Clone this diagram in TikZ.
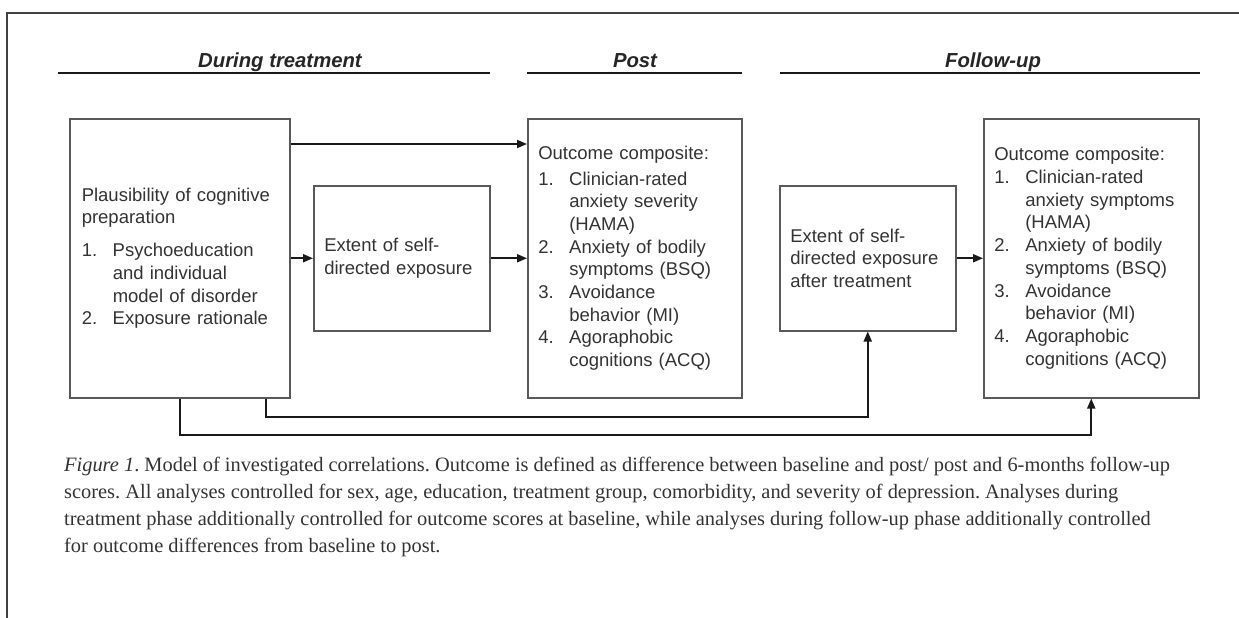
\documentclass[tikz,border=0pt]{standalone}
\usepackage{fontspec}
\setmainfont{Liberation Sans}
\newfontfamily\capfont{Liberation Serif}
\usetikzlibrary{arrows.meta}

\newcommand\bxfont{\fontsize{18.5}{22.7}\selectfont}
\newcommand\hdfont{\fontsize{20.3}{22}\selectfont\bfseries\itshape}
\newcommand\itm[1]{\makebox[31pt][l]{#1}}
\newcommand\ind{\hspace*{31pt}}

\begin{document}
\frenchspacing
\begin{tikzpicture}[x=1pt,y=-1pt,
  box/.style={draw=black!65, line width=1.5pt, anchor=north west,
    inner xsep=10.5pt, inner ysep=0pt, align=left, font=\bxfont, text=black!80},
  rule/.style={draw=black!90, line width=2.3pt},
  frame/.style={draw=black!75, line width=1.4pt},
  head/.style={font=\hdfont, text=black!85, inner sep=0pt, anchor=base},
  arr/.style={draw=black!90, line width=1.8pt, -{Triangle[length=10pt,width=8pt]}},
  capt/.style={font=\capfont\fontsize{20.4}{27}\selectfont, text=black!80,
    align=left, inner sep=0pt, anchor=north west}]

\useasboundingbox (0,0) rectangle (1239,618);

% page frame (top and left edges)
\draw[frame] (7,618) -- (7,13) -- (1239,13);

% phase headings with their rules
\node[head] (hdur) at (280,67) {During treatment};
\node[head] (hpost) at (635,67) {Post};
\node[head] (hfol) at (993,67) {Follow-up};
\draw[rule] (58,73) -- (490,73);
\draw[rule] (527,73) -- (742,73);
\draw[rule] (780,73) -- (1200,73);

% boxes
\node[box, inner xsep=12pt, minimum width=220pt, minimum height=279pt, text width=196pt] (prep) at (69,118)
  {Plausibility of cognitive\\ preparation\\[10pt]
   \itm{1.}Psychoeducation\\ \ind and individual\\ \ind model of disorder\\
   \itm{2.}Exposure rationale};

\node[box, minimum width=176pt, minimum height=145pt, text width=155pt] (expo) at (313,185)
  {Extent of self-\\ directed exposure};

\node[box, minimum width=214pt, minimum height=279pt, text width=193pt] (post) at (527,118)
  {Outcome composite:\\[3pt]
   \itm{1.}Clinician-rated\\ \ind anxiety severity\\ \ind (HAMA)\\
   \itm{2.}Anxiety of bodily\\ \ind symptoms (BSQ)\\
   \itm{3.}Avoidance\\ \ind behavior (MI)\\
   \itm{4.}Agoraphobic\\ \ind cognitions (ACQ)};

\node[box, minimum width=176pt, minimum height=145pt, text width=155pt] (expoft) at (779,185)
  {Extent of self-\\ directed exposure\\ after treatment};

\node[box, minimum width=215pt, minimum height=279pt, text width=194pt] (fol) at (983,118)
  {Outcome composite:\\
   \itm{1.}Clinician-rated\\ \ind anxiety symptoms\\ \ind (HAMA)\\
   \itm{2.}Anxiety of bodily\\ \ind symptoms (BSQ)\\
   \itm{3.}Avoidance\\ \ind behavior (MI)\\
   \itm{4.}Agoraphobic\\ \ind cognitions (ACQ)};

% routing points
\coordinate (ytop) at (0,144);
\coordinate (j1) at (266,417);
\coordinate (j2) at (0,435);

% connectors
\draw[arr] (prep.east |- ytop) -- (post.west |- ytop);
\draw[arr] (prep.east |- expo.west) -- (expo.west);
\draw[arr] (expo.east) -- (post.west |- expo.east);
\draw[arr] (expoft.east) -- (fol.west |- expoft.east);
\draw[arr] (prep.south -| j1) -- (j1) -| (expoft.south);
\draw[arr] (prep.south) -- (prep.south |- j2) -| (fol.south);

% caption
\node[capt] (cap) at (64,457)
  {\textit{Figure 1}. Model of investigated correlations. Outcome is defined as difference between baseline and post/ post and 6-months follow-up\\
   scores. All analyses controlled for sex, age, education, treatment group, comorbidity, and severity of depression. Analyses during\\
   treatment phase additionally controlled for outcome scores at baseline, while analyses during follow-up phase additionally controlled\\
   for outcome differences from baseline to post.};

\end{tikzpicture}
\end{document}
